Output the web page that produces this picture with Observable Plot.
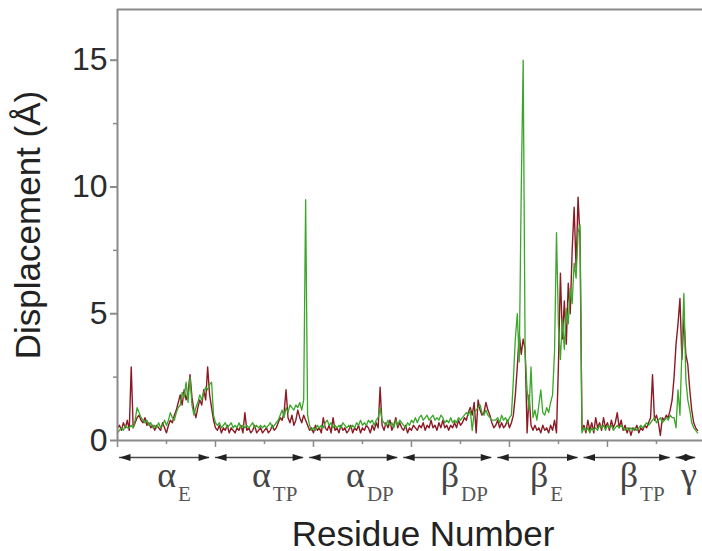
<!DOCTYPE html>
<html><head><meta charset="utf-8">
<script src="https://cdn.jsdelivr.net/npm/d3@7"></script>
<script src="https://cdn.jsdelivr.net/npm/@observablehq/plot@0.6"></script>
<style>html,body{margin:0;padding:0;background:#fff;}</style>
</head><body><div id="chart"></div>
<script>
// Chains (segments along the concatenated residue axis)
const chainGreek = ["α", "α", "α", "β", "β", "β", "γ"];
const chainSub = ["E", "TP", "DP", "DP", "E", "TP", ""];
const chainStart = [-5, 485, 965, 1445, 1925, 2365, 2835];
const chainEnd = [485, 965, 1445, 1925, 2365, 2835, 2965];

// Axis ticks
const yTicks = [0, 5, 10, 15];
const yMinor = [2.5, 7.5, 12.5];
const xTicks = [0, 500, 1000, 1500, 2000, 2500];
const xMinor = [250, 750, 1250, 1750, 2250, 2750];

// Displacement (Å), dark red series, one value every 10 residues
const red_aE = [0.5,0.6,0.4,0.7,0.5,0.8,0.4,2.9,0.5,0.7,0.9,1.0,0.8,0.7,0.9,0.6,0.7,0.5,0.6,0.4,0.6,0.5,0.4,0.7,0.5,0.3,0.6,0.8,0.7,1.0,1.2,1.5,1.8,1.4,2.0,1.6,1.9,2.6,1.7,1.2,0.9,1.3,1.6,1.4,2.0,1.6,2.9,1.8,1.3];
const red_aTP = [0.8,0.5,0.4,0.6,0.3,0.5,0.4,0.6,0.3,0.5,0.4,0.3,0.5,0.4,0.6,0.3,1.1,0.4,0.5,0.3,0.4,0.6,0.3,0.4,0.5,0.3,0.4,0.5,0.3,0.4,0.6,0.4,0.5,0.7,0.9,0.8,1.1,2.0,0.9,0.7,1.0,0.6,0.8,1.2,0.9,0.7,1.0,0.8];
const red_aDP = [0.6,0.4,0.5,0.3,0.6,0.4,0.5,0.3,0.9,0.5,0.4,0.6,0.3,0.9,0.4,0.5,0.3,0.6,0.4,0.5,0.3,0.4,0.6,0.3,0.5,0.4,0.6,0.3,0.5,0.4,0.6,0.5,0.3,0.6,0.4,0.7,0.5,2.1,0.6,0.4,0.7,0.5,0.8,0.4,0.6,0.9,0.5,0.7];
const red_bDP = [0.5,0.4,0.6,0.3,0.5,0.4,0.6,0.5,0.4,0.6,0.5,0.7,0.4,0.6,0.5,0.8,0.5,0.6,0.4,0.7,0.5,0.8,0.5,0.6,0.4,0.6,0.5,0.7,0.5,0.8,0.6,0.7,0.9,0.8,1.1,1.3,1.0,1.5,0.3,1.6,1.2,1.0,1.1,1.5,1.2,1.0,0.7,0.5];
const red_bE = [0.6,0.8,0.5,0.7,0.5,0.6,0.8,0.5,0.7,1.0,1.8,2.9,4.2,3.4,4.0,3.6,0.3,1.8,0.6,0.4,0.6,0.4,0.5,0.3,0.6,0.4,0.5,0.3,0.6,0.4,0.8,0.3,3.0,6.6,4.0,5.5,3.8,6.2,5.0,7.5,9.2,6.8,9.6,8.0];
const red_bTP = [0.4,0.6,0.3,0.8,0.4,0.7,0.3,0.9,0.5,0.7,0.4,0.9,0.5,0.7,0.4,0.8,0.5,0.7,1.1,0.5,0.8,0.4,0.6,0.3,0.5,0.2,0.5,0.4,0.6,0.3,0.5,0.4,0.6,0.5,0.7,0.9,2.6,0.8,1.0,0.7,0.2,0.9,0.8,1.0,0.9,1.2,1.6];
const red_g = [2.5,3.8,4.6,5.6,3.2,4.8,3.4,3.0,2.0,1.2,0.7,0.5,0.4];

// Displacement (Å), green series
const green_aE = [0.3,0.4,0.5,0.4,0.6,0.5,0.5,0.6,0.5,0.8,1.3,1.1,0.9,0.8,0.7,0.8,0.6,0.7,0.5,0.6,0.5,0.7,0.5,0.6,0.8,0.6,0.8,1.1,0.9,0.8,1.1,1.3,1.4,1.9,1.7,2.3,1.5,2.5,1.4,1.0,1.3,1.5,1.8,1.6,1.9,2.1,2.0,2.2,2.3];
const green_aTP = [1.0,0.7,0.6,0.7,0.5,0.6,0.7,0.5,0.6,0.7,0.5,0.6,0.5,0.7,0.5,0.6,0.5,0.6,0.5,0.6,0.7,0.5,0.6,0.5,0.6,0.5,0.6,0.5,0.6,0.7,0.5,0.6,0.7,0.8,1.0,1.2,0.9,1.3,1.1,1.4,1.3,1.2,1.4,1.3,1.5,1.2,1.6,9.5];
const green_aDP = [1.0,0.6,0.4,0.5,0.4,0.6,0.5,0.6,0.5,0.7,0.8,0.6,0.7,0.5,0.6,0.5,0.6,0.5,0.7,0.6,0.5,0.6,0.5,0.6,0.5,0.7,0.6,0.8,0.6,0.7,0.6,0.8,0.7,0.8,0.6,0.8,0.9,1.3,0.8,0.7,0.6,0.8,0.6,0.7,0.5,0.8,0.6,0.8];
const green_bDP = [0.7,0.6,0.5,0.7,0.6,0.8,0.7,0.9,0.7,0.9,1.0,0.8,0.9,1.0,0.8,0.9,1.0,0.8,0.9,0.8,1.0,0.9,0.7,0.8,0.7,0.9,0.7,0.8,0.7,0.9,0.8,0.9,1.0,1.1,1.0,1.2,0.4,1.1,1.2,1.3,1.4,1.1,1.0,1.2,1.0,0.9,0.8,0.8];
const green_bE = [0.8,0.9,0.7,1.0,0.8,0.9,0.7,0.9,1.0,2.4,4.0,5.0,3.1,9.8,15.0,3.4,2.0,1.2,2.9,0.9,1.2,0.8,1.4,2.0,1.1,1.0,1.3,1.1,1.5,1.8,3.5,8.2,4.5,3.2,4.8,3.6,5.2,4.6,6.0,5.4,7.0,6.4,8.2,8.5];
const green_bTP = [0.3,0.5,0.4,0.5,0.3,0.5,0.4,0.5,0.4,0.6,0.5,0.6,0.4,0.6,0.5,0.6,0.4,0.5,0.6,0.5,0.6,0.5,0.4,0.5,0.4,0.5,0.4,0.5,0.4,0.5,0.6,0.5,0.6,0.7,0.6,0.7,0.8,0.9,0.7,0.8,0.9,0.7,0.8,0.9,0.8,1.0,0.9];
const green_g = [0.9,0.5,2.0,1.0,3.6,5.8,2.4,1.6,1.2,0.7,0.5,0.4,0.3];

const redSeries = [...red_aE, ...red_aTP, ...red_aDP, ...red_bDP, ...red_bE, ...red_bTP, ...red_g];
const greenSeries = [...green_aE, ...green_aTP, ...green_aDP, ...green_bDP, ...green_bE, ...green_bTP, ...green_g];
const residue = redSeries.map((_, i) => i * 10);

const toRows = vals => vals.map((v, i) => ({residue: residue[i], value: v}));
const redRows = toRows(redSeries);
const greenRows = toRows(greenSeries);

const segments = chainGreek.map((g, i) => ({
  greek: g, sub: chainSub[i], start: chainStart[i], end: chainEnd[i],
  mid: chainStart[i] + 0.62 * (chainEnd[i] - chainStart[i])
}));
const segSub = segments.filter(d => d.sub);
const segNoSub = segments.filter(d => !d.sub);

const headRight = {draw(ctx) { ctx.moveTo(0, 0); ctx.lineTo(-11, -3.5); ctx.lineTo(-11, 3.5); ctx.closePath(); }};
const headLeft = {draw(ctx) { ctx.moveTo(0, 0); ctx.lineTo(11, -3.5); ctx.lineTo(11, 3.5); ctx.closePath(); }};

const axisGrey = "#8a8a8a";
const serif = "'Liberation Serif', 'Times New Roman', serif";

const chart = Plot.plot({
  width: 702,
  height: 551,
  marginLeft: 117,
  marginRight: 0,
  marginTop: 9,
  marginBottom: 111,
  style: {fontFamily: "'Liberation Sans', Arial, sans-serif", background: "#fff", overflow: "visible"},
  x: {domain: [0, 2985]},
  y: {domain: [0, 17]},
  marks: [
    Plot.ruleY([17], {stroke: axisGrey, strokeWidth: 2}),
    Plot.axisY(yTicks, {tickSize: 7, tickPadding: 3, fontSize: 32, stroke: axisGrey, strokeWidth: 2, fill: "#2b2b2b", label: null}),
    Plot.axisY(yMinor, {tickSize: 4, stroke: axisGrey, strokeWidth: 1.5, fill: "none", label: null}),
    Plot.axisX(xTicks, {anchor: "bottom", tickSize: 7, stroke: axisGrey, strokeWidth: 1.5, fill: "none", label: null}),
    Plot.axisX(xMinor, {anchor: "bottom", tickSize: 4, stroke: axisGrey, strokeWidth: 1.5, fill: "none", label: null}),
    Plot.lineY(redRows, {x: "residue", y: "value", stroke: "#8b1a24", strokeWidth: 1.4}),
    Plot.lineY(greenRows, {x: "residue", y: "value", stroke: "#3aa62a", strokeWidth: 1.3}),
    Plot.ruleY([0], {stroke: axisGrey, strokeWidth: 2}),
    Plot.ruleX([0], {stroke: axisGrey, strokeWidth: 2}),
    // chain arrows
    Plot.ruleY(segments, {x1: "start", x2: "end", y: () => 0, dy: 17, insetLeft: 3, insetRight: 3, stroke: "#4a4a4a", strokeWidth: 1.6}),
    Plot.dot(segments, {x: "start", y: () => 0, dx: 3, dy: 17, symbol: headLeft, fill: "#222", stroke: "none"}),
    Plot.dot(segments, {x: "end", y: () => 0, dx: -3, dy: 17, symbol: headRight, fill: "#222", stroke: "none"}),
    // chain labels
    Plot.text(segSub, {x: "mid", text: "greek", frameAnchor: "bottom", dy: 46, lineAnchor: "bottom", textAnchor: "end", fontFamily: serif, fontSize: 36, fill: "#444"}),
    Plot.text(segSub, {x: "mid", text: "sub", frameAnchor: "bottom", dy: 60, dx: 2, lineAnchor: "bottom", textAnchor: "start", fontFamily: serif, fontSize: 21, fill: "#555"}),
    Plot.text(segNoSub, {x: "mid", text: "greek", frameAnchor: "bottom", dy: 46, lineAnchor: "bottom", textAnchor: "middle", fontFamily: serif, fontSize: 36, fill: "#444"}),
    // axis titles
    Plot.text(["Residue Number"], {frameAnchor: "bottom", dx: 13, dy: 105, lineAnchor: "bottom", textAnchor: "middle", fontSize: 35, fill: "#222"}),
    Plot.text(["Displacement (Å)"], {frameAnchor: "left", dx: -89, rotate: -90, textAnchor: "middle", fontSize: 35, fill: "#222"})
  ]
});
document.getElementById("chart").appendChild(chart);
</script>
</body></html>
